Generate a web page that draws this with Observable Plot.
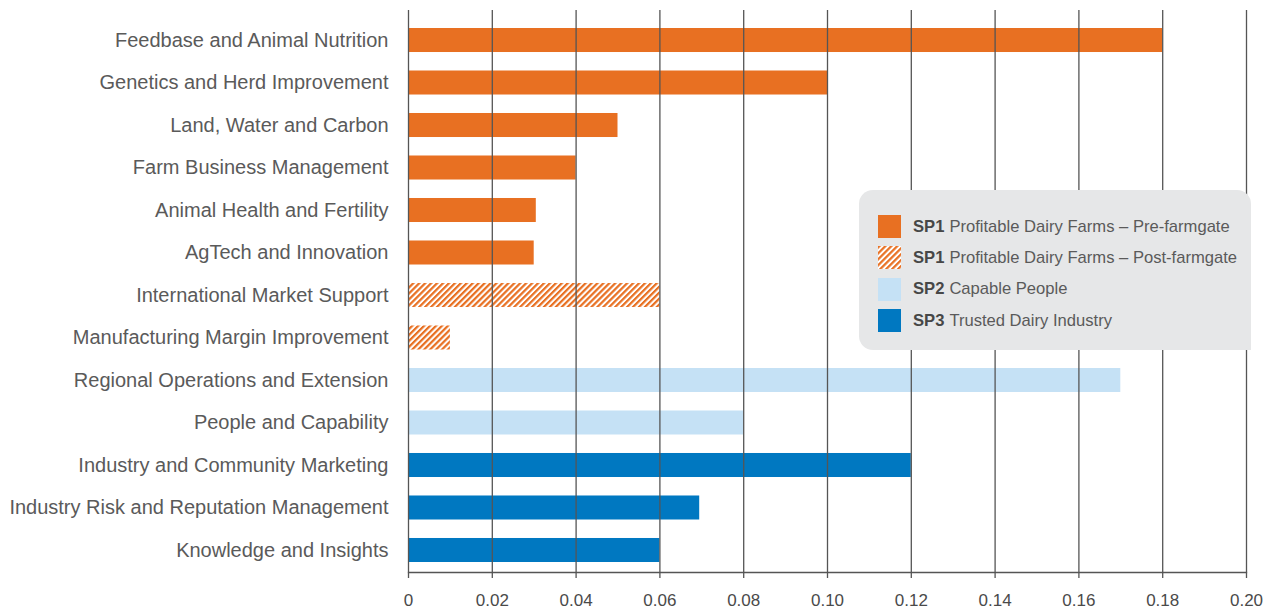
<!DOCTYPE html>
<html>
<head>
<meta charset="utf-8">
<script src="https://cdn.jsdelivr.net/npm/d3@7"></script>
<script src="https://cdn.jsdelivr.net/npm/@observablehq/plot@0.6"></script>
<style>
  html, body { margin: 0; padding: 0; background: #fff; }
  #wrap { position: relative; width: 1274px; height: 613px; overflow: hidden; font-family: "Liberation Sans", Arial, sans-serif; }
  #legend {
    position: absolute; left: 859px; top: 190px; width: 392px; height: 160px;
    background: #e6e7e8; border-radius: 14px 14px 0 14px; box-sizing: border-box;
    padding-top: 21px; padding-left: 19px;
  }
  .item { display: flex; align-items: center; height: 31.3px; font-size: 16.6px; color: #5a5a5a; white-space: nowrap; }
  .item b { font-weight: 700; color: #474747; margin-right: 5px; }
  .sw { width: 23px; height: 23px; margin-right: 12px; flex: none; }
</style>
</head>
<body>
<div id="wrap"></div>
<script>
const categories = [
  "Feedbase and Animal Nutrition",
  "Genetics and Herd Improvement",
  "Land, Water and Carbon",
  "Farm Business Management",
  "Animal Health and Fertility",
  "AgTech and Innovation",
  "International Market Support",
  "Manufacturing Margin Improvement",
  "Regional Operations and Extension",
  "People and Capability",
  "Industry and Community Marketing",
  "Industry Risk and Reputation Management",
  "Knowledge and Insights"
];
const values = [0.18, 0.10, 0.05, 0.04, 0.0305, 0.03, 0.06, 0.01, 0.17, 0.08, 0.12, 0.0695, 0.06];
const groups = ["pre","pre","pre","pre","pre","pre","post","post","sp2","sp2","sp3","sp3","sp3"];
const groupKeys = ["pre", "post", "sp2", "sp3"];
const groupFills = ["#e87022", "url(#hatch)", "#c5e1f5", "#0078c1"];
const legendBold = ["SP1", "SP1", "SP2", "SP3"];
const legendText = ["Profitable Dairy Farms – Pre-farmgate", "Profitable Dairy Farms – Post-farmgate", "Capable People", "Trusted Dairy Industry"];
const tickValues = [0, 0.02, 0.04, 0.06, 0.08, 0.10, 0.12, 0.14, 0.16, 0.18, 0.20];
const tickLabels = ["0", "0.02", "0.04", "0.06", "0.08", "0.10", "0.12", "0.14", "0.16", "0.18", "0.20"];

const rows = categories.map((c, i) => ({category: c, value: values[i], group: groups[i]}));

const barMarks = groupKeys.map((g, k) =>
  Plot.barX(rows.filter(d => d.group === g), {x: "value", y: "category", fill: groupFills[k]})
);

const chart = Plot.plot({
  width: 1274,
  height: 613,
  marginLeft: 408,
  marginRight: 28,
  marginTop: 10,
  marginBottom: 41,
  style: {fontFamily: "'Liberation Sans', Arial, sans-serif", background: "transparent"},
  x: {domain: [0, 0.2], label: null},
  y: {domain: categories, range: [28, 562], paddingInner: 0.435, paddingOuter: 0, round: false, label: null},
  marks: [
    ...barMarks,
    Plot.ruleX(tickValues, {stroke: "#555", strokeWidth: 1.3}),
    Plot.frame({anchor: "bottom", stroke: "#555", strokeWidth: 1.3}),
    Plot.axisX({ticks: tickValues, tickFormat: (d, i) => tickLabels[i], tickSize: 6, tickPadding: 15, fontSize: 17, stroke: "#555", strokeWidth: 1.3, color: "#4a4a4a", label: null}),
    Plot.axisY({tickSize: 0, tickPadding: 20, fontSize: 20, color: "#5a5a5a", label: null})
  ]
});

// hatch pattern definition
const ns = "http://www.w3.org/2000/svg";
function addPattern(svg, id) {
  const defs = document.createElementNS(ns, "defs");
  defs.innerHTML = `<pattern id="${id}" patternUnits="userSpaceOnUse" width="4.2" height="4.2" patternTransform="rotate(45)">
    <rect width="4.2" height="4.2" fill="#ffffff"></rect>
    <rect width="2.2" height="4.2" fill="#e87022"></rect></pattern>`;
  svg.insertBefore(defs, svg.firstChild);
}
addPattern(chart, "hatch");

const wrap = document.getElementById("wrap");
wrap.appendChild(chart);

const legend = document.createElement("div");
legend.id = "legend";
groupKeys.forEach((g, k) => {
  const item = document.createElement("div");
  item.className = "item";
  const sw = document.createElementNS(ns, "svg");
  sw.setAttribute("class", "sw");
  sw.setAttribute("width", 23); sw.setAttribute("height", 23);
  if (g === "post") addPattern(sw, "hatchLeg");
  const r = document.createElementNS(ns, "rect");
  r.setAttribute("width", 23); r.setAttribute("height", 23);
  r.setAttribute("fill", g === "post" ? "url(#hatchLeg)" : groupFills[k]);
  sw.appendChild(r);
  item.appendChild(sw);
  const b = document.createElement("b"); b.textContent = legendBold[k];
  item.appendChild(b);
  item.appendChild(document.createTextNode(legendText[k]));
  legend.appendChild(item);
});
wrap.appendChild(legend);
</script>
</body>
</html>
